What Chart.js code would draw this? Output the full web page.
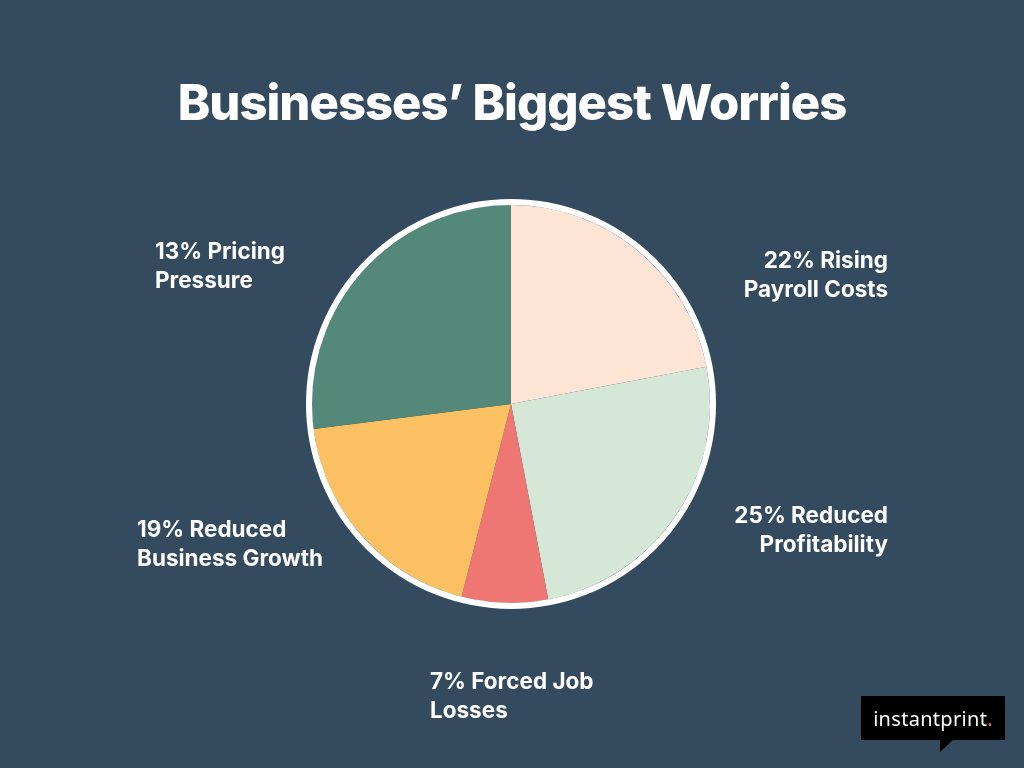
<!DOCTYPE html>
<html>
<head>
<meta charset="utf-8">
<script src="https://cdn.jsdelivr.net/npm/chart.js@4.4.0/dist/chart.umd.min.js"></script>
<style>
  html, body { margin: 0; padding: 0; background: #344a5e; }
  #wrap { position: relative; width: 1024px; height: 768px; overflow: hidden; font-family: "Inter", "Noto Sans", sans-serif; color: #fff; }
  #chart { position: absolute; left: 0; top: 0; }
  h1 { position: absolute; left: 0; width: 1024px; top: 73px; margin: 0; text-align: center; font-size: 49px; font-weight: 800; letter-spacing: -1px; }
  .lbl { position: absolute; font-size: 22.5px; font-weight: 700; line-height: 29px; letter-spacing: 0; white-space: nowrap; }
  .right { text-align: right; }
  #logo { position: absolute; left: 861px; top: 696px; width: 144px; height: 44px; background: #000; }
  #logo span.t { position: absolute; left: 0; width: 144px; top: 9px; text-align: center; font-size: 20px; font-family: "Noto Sans", sans-serif; letter-spacing: 0.3px; }
  #logo span.dot { color: #ee7673; }
  #tail { position: absolute; left: 940px; top: 739px; width: 0; height: 0; border-top: 13px solid #000; border right: 0; border-right: 14px solid transparent; }
</style>
</head>
<body>
<div id="wrap">
  <canvas id="chart" width="1024" height="768"></canvas>
  <h1>Businesses’ Biggest Worries</h1>
  <div class="lbl" style="left:155px; top:236px;">13% Pricing<br>Pressure</div>
  <div class="lbl right" style="right:136px; top:245px;">22% Rising<br>Payroll Costs</div>
  <div class="lbl right" style="right:136px; top:500px;">25% Reduced<br>Profitability</div>
  <div class="lbl" style="left:137px; top:514px;">19% Reduced<br>Business Growth</div>
  <div class="lbl" style="left:430px; top:666px;">7% Forced Job<br>Losses</div>
  <div id="logo"><span class="t">instantprint<span class="dot">.</span></span></div>
  <div id="tail"></div>
</div>
<script>
  var categories = ['Rising Payroll Costs', 'Reduced Profitability', 'Forced Job Losses', 'Reduced Business Growth', 'Pricing Pressure'];
  var shares = [22, 25, 7, 19, 27];
  var sliceColors = ['#fde4d4', '#d5e8d8', '#ee7673', '#fac062', '#548878'];

  // white ring around the whole pie
  var outerRing = {
    id: 'outerRing',
    afterDatasetsDraw: function (chart) {
      var arc = chart.getDatasetMeta(0).data[0];
      if (!arc) return;
      var ctx = chart.ctx;
      ctx.save();
      ctx.beginPath();
      ctx.arc(arc.x, arc.y, arc.outerRadius + 3, 0, Math.PI * 2);
      ctx.strokeStyle = '#ffffff';
      ctx.lineWidth = 6;
      ctx.stroke();
      ctx.restore();
    }
  };

  new Chart(document.getElementById('chart').getContext('2d'), {
    type: 'pie',
    data: {
      labels: categories,
      datasets: [{
        data: shares,
        backgroundColor: sliceColors,
        borderWidth: 0
      }]
    },
    options: {
      responsive: false,
      maintainAspectRatio: false,
      animation: false,
      layout: { padding: { top: 205, bottom: 165, left: 312, right: 314 } },
      plugins: {
        legend: { display: false },
        tooltip: { enabled: false },
        title: { display: false }
      }
    },
    plugins: [outerRing]
  });
</script>
</body>
</html>
